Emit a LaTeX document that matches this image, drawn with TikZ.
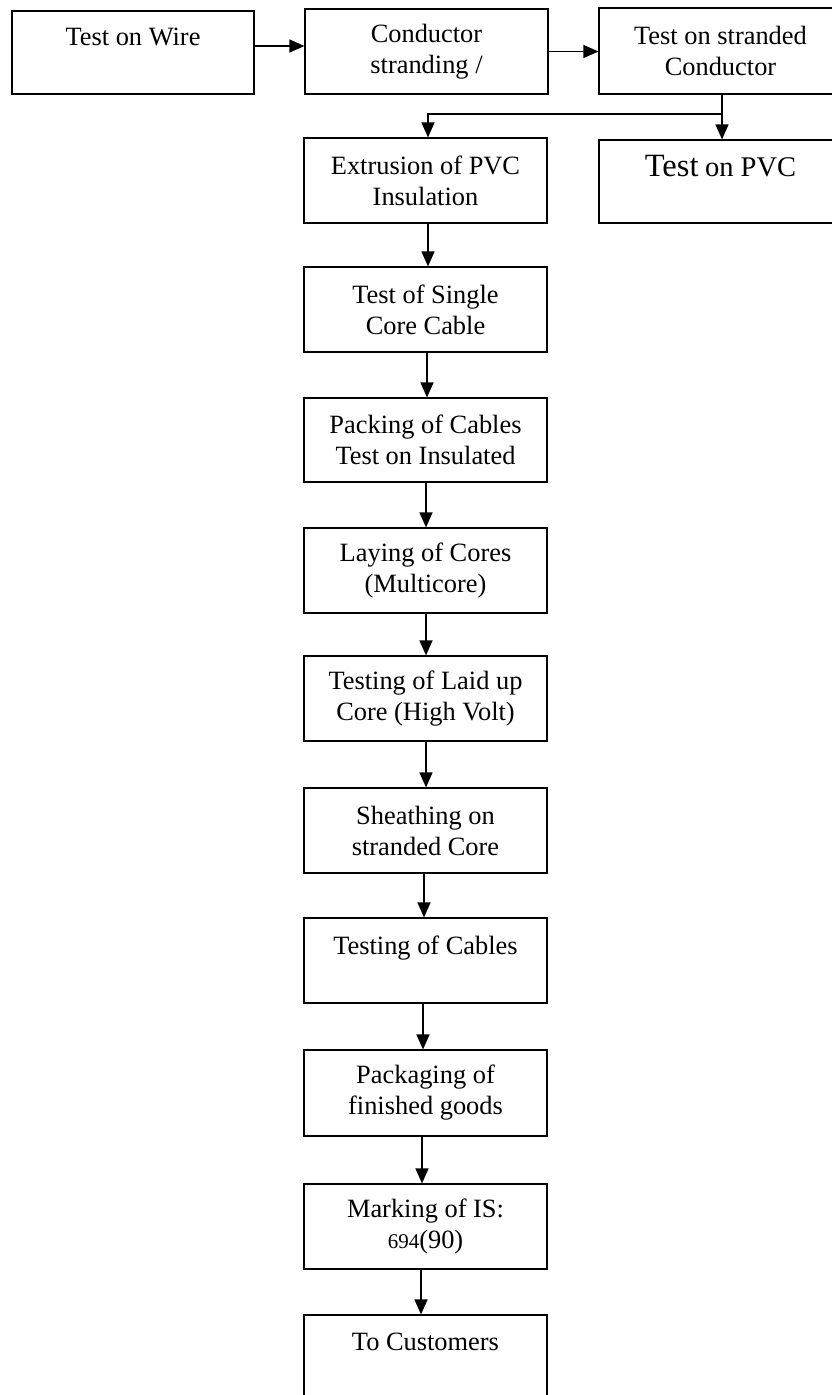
\documentclass[tikz,border=0pt]{standalone}
\usepackage{fontspec}
\setmainfont{Liberation Serif}
\usetikzlibrary{arrows.meta}
\tikzset{
  box/.style={draw, line width=1.2pt, minimum width=243pt, minimum height=85pt,
    inner sep=0pt, align=center, font=\fontsize{26.4}{31}\selectfont},
  arr/.style={line width=1.3pt, -{Triangle[length=15pt,width=13pt]}},
  ln/.style={line width=1.3pt}
}
\begin{document}
\begin{tikzpicture}[x=1pt,y=-1pt]
\useasboundingbox (0,0) rectangle (832,1395);
\clip (0,0) rectangle (832,1395);
% top row
\node[box, minimum width=242pt, minimum height=83pt] (wire) at (133,52.5) {Test on Wire\\\mbox{}};
\node[box] (cond) at (426.5,51.5) {Conductor\\stranding /};
\node[box, minimum height=86pt] (tsc) at (720.5,51) {Test on stranded\\Conductor};
\node[box, minimum height=83pt] (pvc) at (720.5,181.5) {{\fontsize{32.5}{31}\selectfont Test} {\fontsize{28.5}{31}\selectfont on PVC}\\\mbox{}};
% column
\node[box] (ext)  at (425.5,180.5) {Extrusion of PVC\\Insulation};
\node[box] (sgl)  at (425.5,309.5) {Test of Single\\Core Cable};
\node[box, minimum height=84pt] (pack) at (425.5,440) {Packing of Cables\\Test on Insulated};
\node[box] (lay)  at (425.5,570.5) {Laying of Cores\\(Multicore)};
\node[box] (tl)   at (425.5,698.5) {Testing of Laid up\\Core (High Volt)};
\node[box] (sh)   at (425.5,830.5) {Sheathing on\\stranded Core};
\node[box] (cab)  at (425.5,960.5) {Testing of Cables\\\mbox{}};
\node[box, minimum height=86pt] (pkg) at (425.5,1093) {Packaging of\\finished goods};
\node[box] (mark) at (425.5,1226.5) {Marking of IS:\\{\fontsize{21}{31}\selectfont 694}(90)};
\node[box] (cust) at (425.5,1357.5) {To Customers\\\mbox{}};
% connectors
\draw[arr] ([yshift=6.5pt]wire.east) -- ([yshift=6.5pt]wire.east -| cond.west);
\draw[arr] (cond.east) -- (cond.east -| tsc.west);
\coordinate (j) at (722,114);
\coordinate (k) at (428,114);
\draw[arr] (tsc.south -| j) -- (pvc.north -| j);
\draw[arr] (j) -- (k) -- (k |- ext.north);
\draw[arr] ([xshift=2.5pt]ext.south) -- ([xshift=2.5pt]sgl.north);
\draw[arr] ([xshift=1.5pt]sgl.south) -- ([xshift=1.5pt]pack.north);
\draw[arr] ([xshift=0.5pt]pack.south) -- ([xshift=0.5pt]lay.north);
\draw[arr] ([xshift=0.5pt]lay.south) -- ([xshift=0.5pt]tl.north);
\draw[arr] ([xshift=0.5pt]tl.south) -- ([xshift=0.5pt]sh.north);
\draw[arr] ([xshift=-1.5pt]sh.south) -- ([xshift=-1.5pt]cab.north);
\draw[arr] ([xshift=-2.5pt]cab.south) -- ([xshift=-2.5pt]pkg.north);
\draw[arr] ([xshift=-3.5pt]pkg.south) -- ([xshift=-3.5pt]mark.north);
\draw[arr] ([xshift=-4.5pt]mark.south) -- ([xshift=-4.5pt]cust.north);
\end{tikzpicture}
\end{document}
